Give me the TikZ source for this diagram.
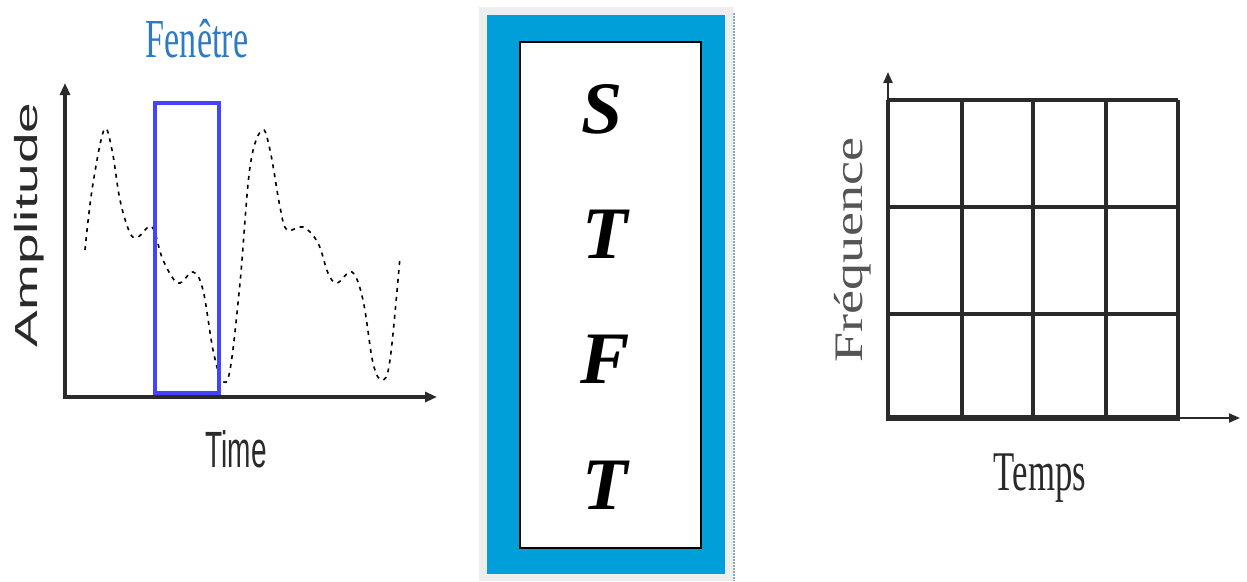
\documentclass[tikz,border=0pt]{standalone}
\usepackage{fontspec}
\setmainfont{Liberation Serif}
\setsansfont{Liberation Sans}
\usetikzlibrary{arrows.meta}
\definecolor{axisgray}{HTML}{2A2A2A}
\definecolor{winblue}{HTML}{4444FF}
\definecolor{titleblue}{HTML}{2E7BC4}
\definecolor{stftblue}{HTML}{009FD9}
\definecolor{framegray}{HTML}{EEEEEE}
\definecolor{edgegray}{HTML}{8AA8B8}
\definecolor{labgray}{HTML}{555555}
\tikzset{
  axisline/.style={draw=axisgray, line width=3.5pt, -{Triangle[length=12pt,width=10pt]}},
  thinaxis/.style={draw=axisgray, line width=2pt, -{Triangle[length=11pt,width=9pt]}},
  gridline/.style={draw=axisgray, line width=4.5pt},
  signal/.style={draw=black, line width=1.6pt, dash pattern=on 4pt off 5pt},
  stftletter/.style={font=\fontsize{74}{74}\selectfont\bfseries\itshape, anchor=base, inner sep=0pt},
}
\begin{document}
\begin{tikzpicture}[x=1pt,y=-1pt]
\useasboundingbox (0,0) rectangle (1247,581);
% ---------- left panel ----------
\coordinate (yorig) at (65,397);
\coordinate (ytip) at (65,83);
\coordinate (xtip) at (437,397);
\draw[axisline] (yorig) -- (ytip);
\draw[axisline] ([xshift=-1.75pt]yorig) -- (xtip);
\draw[signal] plot[smooth, tension=0.6] coordinates {
 (85,250) (92,190) (104,130) (112,150) (120,200) (130,233) (138,237) (152,227)
 (163,260) (178,283) (193,272) (203,290) (213,350) (222,380) (230,370) (240,283)
 (250,167) (262,130) (270,150) (280,207) (287,230) (303,227) (318,243) (328,273)
 (337,283) (352,272) (363,300) (373,363) (382,380) (390,360) (400,257)};
\node[draw=winblue, line width=4pt, minimum width=64pt, minimum height=290pt, inner sep=0pt] (win) at (187,248) {};
\node[font=\fontsize{55}{55}\selectfont, text=titleblue, anchor=base, inner sep=0pt] (fen) at (197,57) {\scalebox{0.62}[1]{Fenêtre}};
\node[font=\sffamily\fontsize{55}{55}\selectfont, text=axisgray, rotate=90, anchor=base, inner sep=0pt] (amp) at (37,225) {\scalebox{1}[0.58]{Amplitude}};
\node[font=\sffamily\fontsize{51}{51}\selectfont, text=axisgray, anchor=base, inner sep=0pt] (time) at (236,467) {\scalebox{0.55}[1]{Time}};
% ---------- centre panel ----------
\fill[framegray] (479,7) rectangle (733,581);
\draw[edgegray, line width=1.5pt, dash pattern=on 2pt off 1pt] (734,13) -- (734,581);
\fill[stftblue] (487,15) rectangle (725,574);
\node[draw=black, fill=white, line width=1.5pt, minimum width=181pt, minimum height=506pt, inner sep=0pt] (box) at (610.5,295) {};
\node[stftletter] (s1) at (602,133) {S};
\node[stftletter] (t1) at (605,258) {T};
\node[stftletter] (f1) at (605,383) {F};
\node[stftletter] (t2) at (605,509) {T};
% ---------- right panel ----------
\coordinate (g00) at (888,418);
\coordinate (gytip) at (888,72);
\coordinate (gxtip) at (1240,418);
\draw[thinaxis] (888,100) -- (gytip);
\draw[thinaxis] (1178,418) -- (gxtip);
\foreach \xx in {888,962,1033,1106,1178} \draw[gridline] (\xx,100) -- (\xx,418);
\foreach \yy in {100,207,314} \draw[gridline] (888,\yy) -- (1178,\yy);
\draw[draw=axisgray, line width=6pt] (886,418) -- (1180,418);
\node[font=\fontsize{54}{54}\selectfont, text=labgray, rotate=90, anchor=base, inner sep=0pt] (freq) at (862,250) {\scalebox{1}[0.75]{Fréquence}};
\node[font=\fontsize{56}{56}\selectfont, text=axisgray, anchor=base, inner sep=0pt] (temps) at (1040,490) {\scalebox{0.62}[1]{Temps}};
\end{tikzpicture}
\end{document}
